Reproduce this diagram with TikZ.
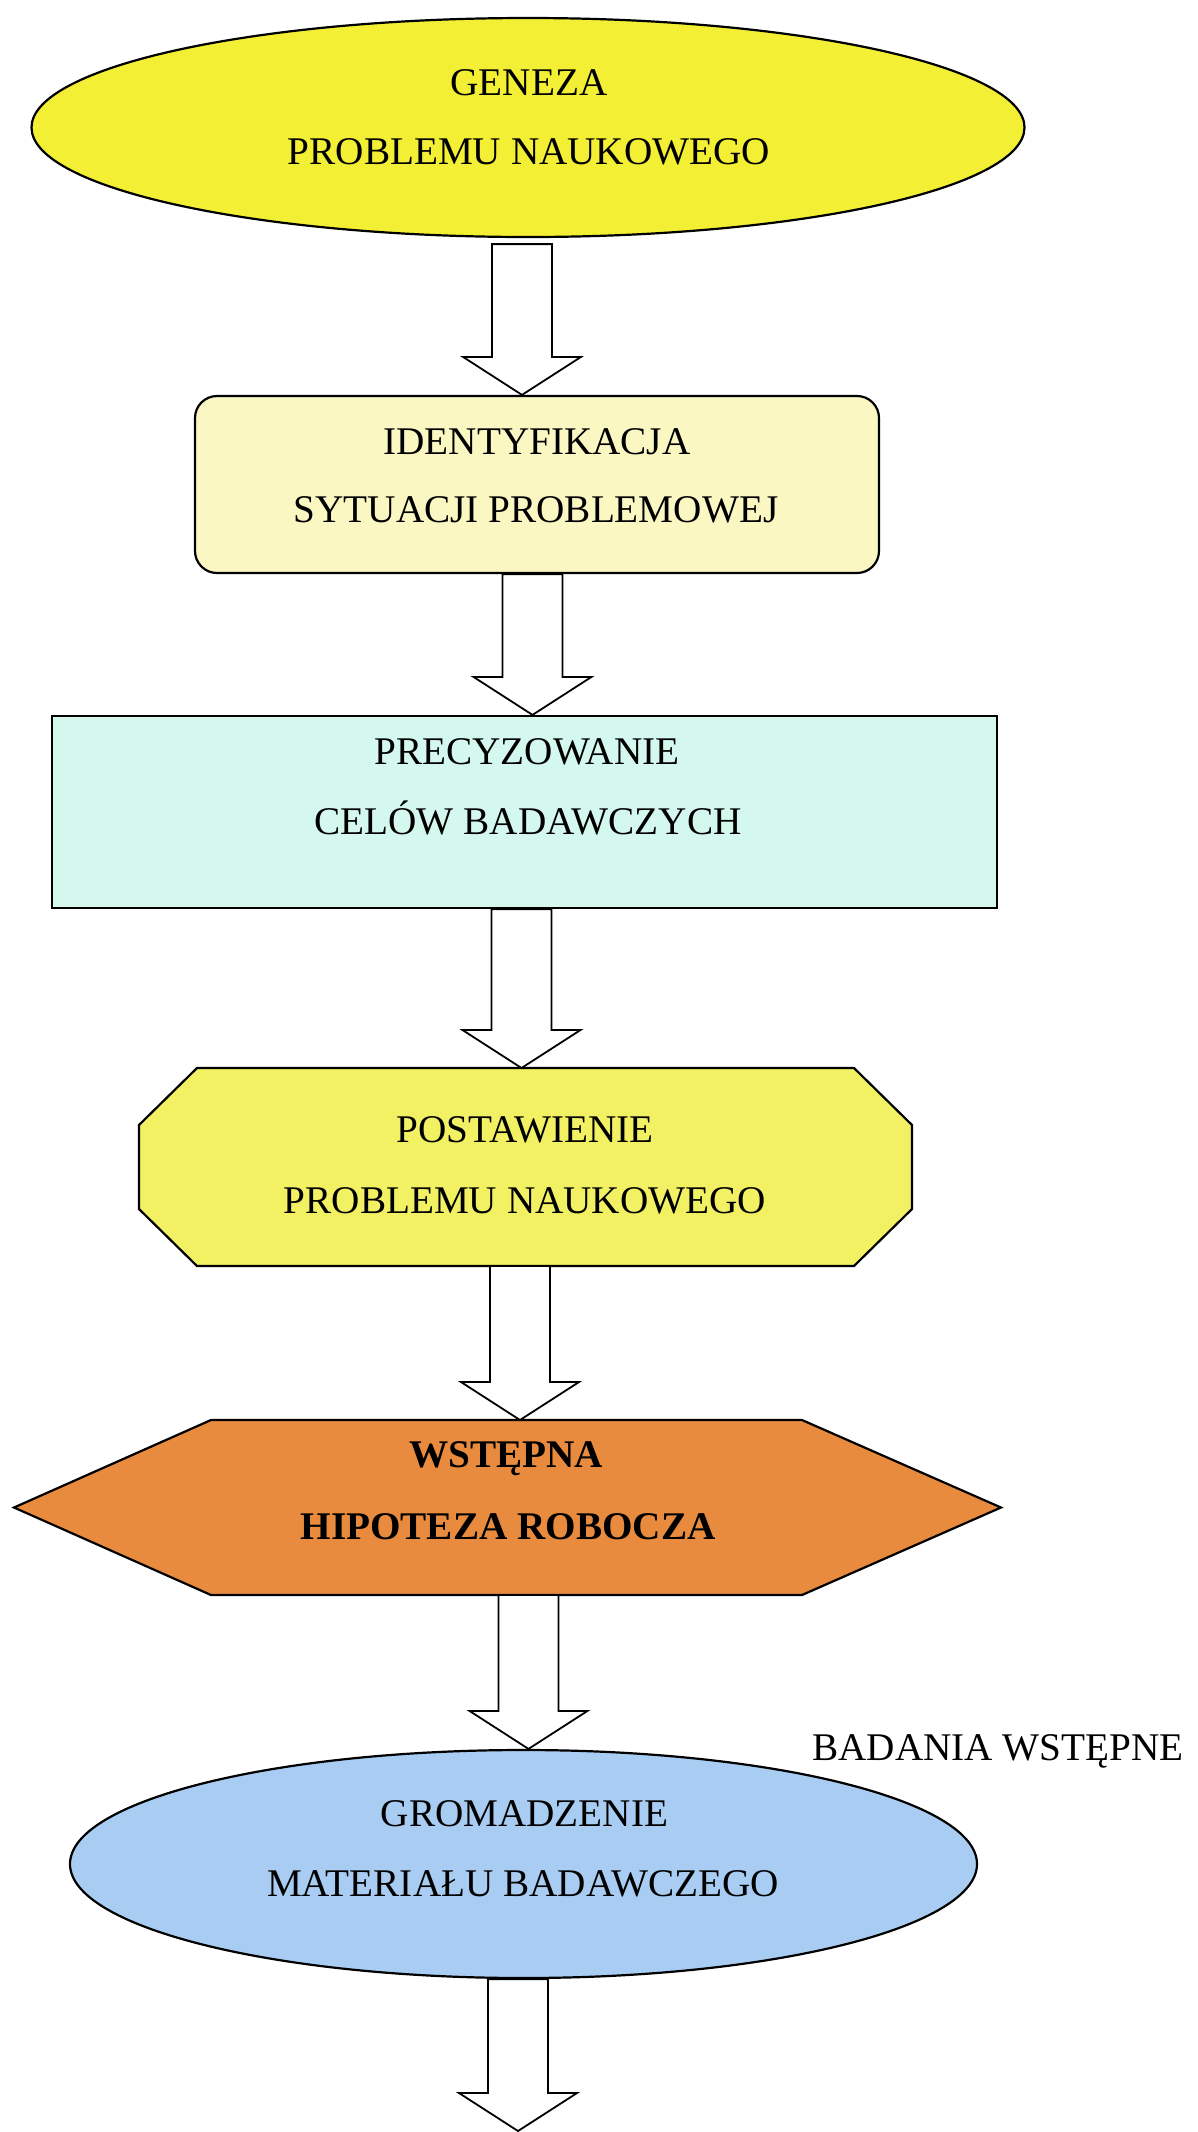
\documentclass[tikz,border=0pt]{standalone}
\usepackage{fontspec}
\setmainfont{Liberation Serif}
\usetikzlibrary{shapes.geometric,calc}

\definecolor{genfill}{RGB}{243,239,52}
\definecolor{identfill}{RGB}{250,247,195}
\definecolor{precfill}{RGB}{212,247,238}
\definecolor{postfill}{RGB}{242,240,99}
\definecolor{hipfill}{RGB}{233,139,63}
\definecolor{gromfill}{RGB}{169,205,242}

\tikzset{
  shapeline/.style={draw=black, line width=1.1pt, inner sep=0pt},
  frame/.style={inner sep=0pt, outer sep=0pt},
  lbl/.style={anchor=base, inner sep=0pt, font=\fontsize{19.6pt}{23pt}\selectfont},
  lblb/.style={anchor=base, inner sep=0pt, font=\fontsize{19.6pt}{23pt}\selectfont\bfseries},
  barrow/.style={draw=black, fill=white, line width=0.9pt, line join=miter},
}

% hollow block arrow from coordinate #1 (top of shaft) to coordinate #2 (tip)
\newcommand\blockarr[2]{%
  \draw[barrow] ($(#1)+(-15pt,0pt)$) -- ($(#2)+(-15pt,19pt)$) -- ($(#2)+(-29.5pt,19pt)$)
    -- (#2) -- ($(#2)+(29.5pt,19pt)$) -- ($(#2)+(15pt,19pt)$) -- ($(#1)+(15pt,0pt)$) -- cycle;}

\begin{document}
\begin{tikzpicture}[x=0.5pt,y=-0.5pt]
\useasboundingbox (0,0) rectangle (1198,2132);
\fill[white] (0,0) rectangle (1198,2132);

% --- GENEZA PROBLEMU NAUKOWEGO
\node[ellipse, shapeline, fill=genfill, minimum width=496.5pt, minimum height=109.5pt] (geneza) at (528,127.5) {};
\node[lbl] (geneza1) at (529,95) {GENEZA};
\node[lbl] (geneza2) at (529,164) {PROBLEMU NAUKOWEGO};

% --- IDENTYFIKACJA SYTUACJI PROBLEMOWEJ
\node[rectangle, rounded corners=11pt, shapeline, fill=identfill, minimum width=342pt, minimum height=88.5pt] (ident) at (537,484.5) {};
\node[lbl] (ident1) at (537,454) {IDENTYFIKACJA};
\node[lbl] (ident2) at (536,522) {SYTUACJI PROBLEMOWEJ};

% --- PRECYZOWANIE CELÓW BADAWCZYCH
\node[rectangle, shapeline, fill=precfill, minimum width=472.5pt, minimum height=96pt] (precyz) at (524.5,812) {};
\node[lbl] (precyz1) at (527,764) {PRECYZOWANIE};
\node[lbl] (precyz2) at (528,834) {CELÓW BADAWCZYCH};

% --- POSTAWIENIE PROBLEMU NAUKOWEGO (octagon)
\node[frame, minimum width=386.5pt, minimum height=99pt] (postaw) at (525.5,1167) {};
\draw[shapeline, fill=postfill]
  ([xshift=29pt]postaw.north west) -- ([xshift=-29pt]postaw.north east)
  -- ([yshift=-28.5pt]postaw.north east) -- ([yshift=28.5pt]postaw.south east)
  -- ([xshift=-29pt]postaw.south east) -- ([xshift=29pt]postaw.south west)
  -- ([yshift=28.5pt]postaw.south west) -- ([yshift=-28.5pt]postaw.north west) -- cycle;
\node[lbl] (postaw1) at (525,1142) {POSTAWIENIE};
\node[lbl] (postaw2) at (525,1213) {PROBLEMU NAUKOWEGO};

% --- WSTĘPNA HIPOTEZA ROBOCZA (hexagon)
\node[frame, minimum width=493.5pt, minimum height=87.5pt] (hipot) at (507.5,1507.5) {};
\draw[shapeline, fill=hipfill]
  (hipot.west) -- ([xshift=98.5pt]hipot.north west) -- ([xshift=-99.5pt]hipot.north east)
  -- (hipot.east) -- ([xshift=-99.5pt]hipot.south east) -- ([xshift=98.5pt]hipot.south west) -- cycle;
\node[lblb] (hipot1) at (506,1467) {WSTĘPNA};
\node[lblb] (hipot2) at (508,1539) {HIPOTEZA ROBOCZA};

% --- GROMADZENIE MATERIAŁU BADAWCZEGO
\node[ellipse, shapeline, fill=gromfill, minimum width=453.5pt, minimum height=114pt] (gromadz) at (523.5,1864) {};
\node[lbl] (gromadz1) at (524.5,1826) {GROMADZENIE};
\node[lbl] (gromadz2) at (523,1896) {MATERIAŁU BADAWCZEGO};

\node[lbl, anchor=base west] (badania) at (812,1760) {BADANIA WSTĘPNE};

% --- block arrows
\coordinate (x1) at (522,0);
\coordinate (x2) at (532.5,0);
\coordinate (x3) at (521.5,0);
\coordinate (x4) at (520,0);
\coordinate (x5) at (528.5,0);
\coordinate (x6) at (518,0);

\coordinate (a1s) at ($(x1 |- geneza.south)+(0,-3pt)$);
\coordinate (a1e) at (x1 |- ident.north);
\coordinate (a2s) at (x2 |- ident.south);
\coordinate (a2e) at (x2 |- precyz.north);
\coordinate (a3s) at (x3 |- precyz.south);
\coordinate (a3e) at (x3 |- postaw.north);
\coordinate (a4s) at (x4 |- postaw.south);
\coordinate (a4e) at (x4 |- hipot.north);
\coordinate (a5s) at (x5 |- hipot.south);
\coordinate (a5e) at (x5 |- gromadz.north);
\coordinate (a6s) at (x6 |- gromadz.south);
\coordinate (a6e) at (518,2131);

\blockarr{a1s}{a1e}
\blockarr{a2s}{a2e}
\blockarr{a3s}{a3e}
\blockarr{a4s}{a4e}
\blockarr{a5s}{a5e}
\blockarr{a6s}{a6e}
\end{tikzpicture}
\end{document}
